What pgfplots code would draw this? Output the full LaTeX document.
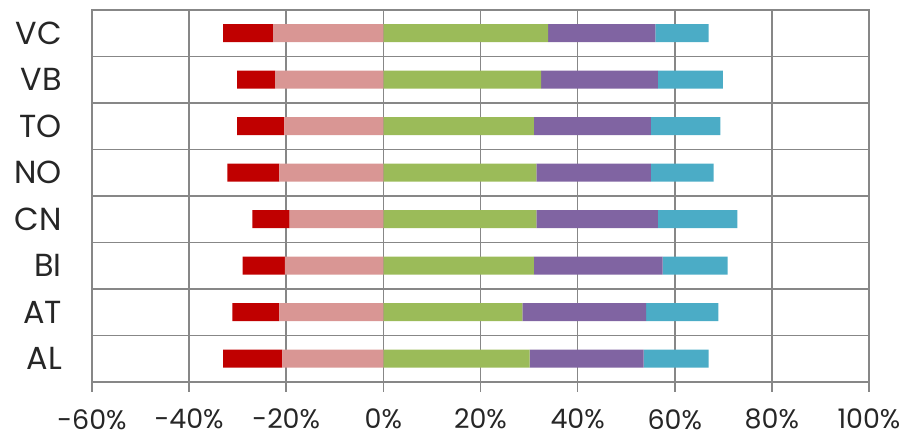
\documentclass[border=0pt]{standalone}
\usepackage{pgfplots}
\pgfplotsset{compat=1.18}
\usepackage{pgfplotstable}
\usepackage{fontspec}
\setmainfont{Poppins}

\definecolor{cRed}{HTML}{C00000}
\definecolor{cPink}{HTML}{D99694}
\definecolor{cGreen}{HTML}{9BBB59}
\definecolor{cPurple}{HTML}{8064A2}
\definecolor{cCyan}{HTML}{4BACC6}
\definecolor{cGrid}{HTML}{878787}
\definecolor{cText}{HTML}{262626}

% negative segments stack leftwards from 0, positive ones rightwards
\pgfplotstableread{
y  pink   red    green purple cyan
0  -20.8  -12.2  30.1  23.5   13.4
1  -21.4   -9.7  28.6  25.5   14.9
2  -20.3   -8.7  31.0  26.5   13.4
3  -19.3   -7.7  31.5  25.0   16.4
4  -21.4  -10.7  31.5  23.6   12.9
5  -20.4   -9.7  31.0  24.1   14.3
6  -22.3   -7.8  32.5  24.0   13.4
7  -22.7  -10.3  33.9  22.1   11.0
}\data

\begin{document}
\begin{tikzpicture}
\begin{axis}[
    name=ax,
    scale only axis,
    width=777bp, height=372bp,
    xbar stacked, bar width=18bp, bar shift=0pt,
    xmin=-60, xmax=100,
    ymin=-0.5, ymax=7.5,
    xtick={-60,-40,...,100},
    xticklabel={\pgfmathprintnumber{\tick}\%},
    /pgf/number format/assume math mode=true,
    ytick={0,...,7},
    yticklabels={AL,AT,BI,CN,NO,TO,VB,VC},
    minor ytick={-0.5,0.5,...,7.5},
    xmajorgrids, yminorgrids,
    grid style={cGrid, line width=1.7bp},
    minor grid style={cGrid, line width=1.7bp},
    axis line style={cGrid, line width=1.7bp},
    xtick pos=bottom, tick align=outside,
    major tick length=10bp,
    xtick style={cGrid, line width=1.7bp},
    ytick style={draw=none},
    minor tick length=0pt,
    x tick label style={font=\fontsize{27}{29}\selectfont, text=cText, inner sep=0pt, yshift=-17bp},
    y tick label style={font=\fontsize{32}{34}\selectfont, text=cText, inner sep=0pt, xshift=-20bp},
]
\addplot[draw=none, fill=cPink] table[x=pink, y=y] {\data};
\addplot[draw=none, fill=cRed] table[x=red, y=y] {\data};
\addplot[draw=none, fill=cGreen] table[x=green, y=y] {\data};
\addplot[draw=none, fill=cPurple] table[x=purple, y=y] {\data};
\addplot[draw=none, fill=cCyan] table[x=cyan, y=y] {\data};
\end{axis}
\pgfresetboundingbox
\path[use as bounding box] ([xshift=-92bp, yshift=-57bp]ax.south west) rectangle ([xshift=41bp, yshift=10bp]ax.north east);
\end{tikzpicture}
\end{document}
